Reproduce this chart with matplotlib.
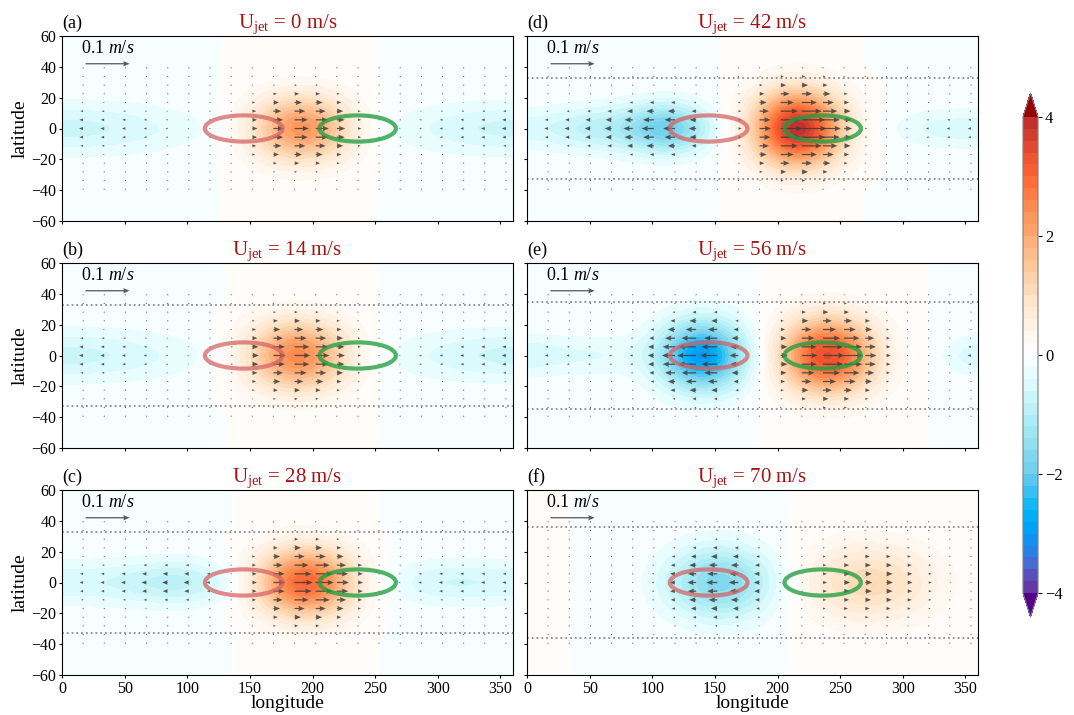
import numpy as np
import matplotlib
matplotlib.use('Agg')
import matplotlib.pyplot as plt
from matplotlib.colors import LinearSegmentedColormap
from matplotlib.patches import Ellipse

plt.rcParams['font.family'] = 'Liberation Serif'
plt.rcParams['mathtext.fontset'] = 'custom'
plt.rcParams['mathtext.rm'] = 'Liberation Serif'
plt.rcParams['mathtext.it'] = 'Liberation Serif:italic'

# ---- data ----
ujet = [0, 14, 28, 42, 56, 70]
tags = ['(a)', '(b)', '(c)', '(d)', '(e)', '(f)']

# anomaly blobs: (lon, lat, amplitude, sigma_lon, sigma_lat)
blobs_a = [(191, 0, 2.3, 40, 21), (5, 0, -0.65, 100, 17)]
blobs_b = [(188, 0, 2.5, 40, 22), (5, 0, -0.65, 100, 17)]
blobs_c = [(194, 0, 3.0, 38, 22), (95, 0, -0.75, 45, 15),
           (25, 0, -0.45, 60, 15), (305, 0, -0.5, 50, 15)]
blobs_d = [(216, 0, 3.9, 35, 24), (112, 0, -1.8, 34, 16),
           (55, 0, -0.8, 45, 15), (335, 0, -0.45, 45, 13)]
blobs_e = [(240, 0, 3.4, 37, 24), (140, 0, -3.0, 34, 22),
           (45, 0, -0.4, 55, 14), (358, 0, -0.35, 25, 13)]
blobs_f = [(154, 0, -1.7, 42, 23), (273, 0, 1.1, 52, 25)]
all_blobs = [blobs_a, blobs_b, blobs_c, blobs_d, blobs_e, blobs_f]

# longitude ranges where the weak far-field anomaly is positive
tails = [[(128, 250)], [(131, 251)], [(137, 254)],
         [(155, 269)], [(187, 320)], [(0, 35), (211, 360)]]

crit_lat = [None, 33, 33, 33, 34.5, 36]

pink_center = (145, 0)
green_center = (236, 0)

# colour anchors (value, rgb)
cmap_vals = [-4.0, -3.6, -3.3, -3.0, -2.6, -2.0, -1.0, -0.4, 0.0,
             0.4, 1.0, 1.6, 2.0, 2.6, 3.0, 3.4, 4.0]
cmap_rgb = [(105, 45, 155), (85, 95, 200), (40, 130, 230), (0, 155, 245),
            (0, 180, 250), (110, 205, 235), (180, 240, 245), (225, 252, 255),
            (255, 255, 255), (255, 245, 235), (255, 225, 195), (255, 195, 150),
            (255, 170, 115), (255, 135, 75), (255, 100, 50), (235, 80, 50),
            (185, 45, 45)]


def build_field(lon2d, lat2d, blobs, tail=None):
    f = np.zeros_like(lon2d, dtype=float)
    for lon0, lat0, amp, sx, sy in blobs:
        dl = (lon2d - lon0 + 180) % 360 - 180
        f += amp * np.exp(-(dl / sx) ** 2 - ((lat2d - lat0) / sy) ** 2)
    if tail is not None:
        sgn = -np.ones_like(f)
        for a, b in tail:
            sgn[(lon2d >= a) & (lon2d < b)] = 1.0
        f += 0.02 * sgn
    return f


pos = [(v + 4) / 8 for v in cmap_vals]
cols = [tuple(c / 255 for c in rgb) for rgb in cmap_rgb]
cmap = LinearSegmentedColormap.from_list('bwor', list(zip(pos, cols)))
cmap.set_over((150 / 255, 0, 0))
cmap.set_under((85 / 255, 0, 140 / 255))
levels = np.arange(-4, 4.001, 0.2)

lon = np.linspace(0, 360, 721)
lat = np.linspace(-60, 60, 241)
LON, LAT = np.meshgrid(lon, lat)

qlon = 16.875 * np.arange(1, 22)
qlat = 5.625 * np.arange(-7, 8)
QLON, QLAT = np.meshgrid(qlon, qlat)

fig = plt.figure(figsize=(10.74, 7.15), dpi=100)
W, H = 1074, 715
col_x = [62, 527]
row_top = [36, 263, 490]
aw, ah = 451, 185

cs = None
for i in range(6):
    c, r = divmod(i, 3)
    ax = fig.add_axes([col_x[c] / W, 1 - (row_top[r] + ah) / H, aw / W, ah / H])
    fld = build_field(LON, LAT, all_blobs[i], tails[i])
    cs = ax.contourf(lon, lat, fld, levels=levels, cmap=cmap, extend='both',
                     vmin=-4, vmax=4)
    u = 0.0145 * build_field(QLON, QLAT, all_blobs[i])
    v = np.zeros_like(u)
    q = ax.quiver(QLON, QLAT, u, v, color='#3c3c3c', alpha=0.85, scale=1.023,
                  scale_units='width', width=0.0028, headwidth=4.2,
                  headlength=5, headaxislength=4.5, zorder=3)
    ax.quiverkey(q, 0.101, 0.85, 0.1, r'0.1 $m/s$', labelpos='N',
                 coordinates='axes', fontproperties={'size': 13},
                 labelsep=0.07)
    if crit_lat[i] is not None:
        for s in (1, -1):
            ax.axhline(s * crit_lat[i], color='0.55', ls=':', lw=1.3, zorder=2)
    ax.add_patch(Ellipse(pink_center, 62, 17, fill=False, ec='#d45f5f',
                         lw=3, alpha=0.72, zorder=4))
    ax.add_patch(Ellipse(green_center, 61, 17, fill=False, ec='#1f9e3f',
                         lw=3, alpha=0.78, zorder=4))
    ax.set_xlim(0, 360)
    ax.set_ylim(-60, 60)
    ax.set_xticks(np.arange(0, 351, 50))
    ax.set_yticks(np.arange(-60, 61, 20))
    ax.tick_params(labelsize=11.5, length=2.5, pad=1.5)
    if c == 0:
        ax.set_ylabel('latitude', fontsize=14, labelpad=2)
    else:
        ax.set_yticklabels([])
    if r == 2:
        ax.set_xlabel('longitude', fontsize=14, labelpad=-1)
    else:
        ax.set_xticklabels([])
    ax.set_title(r'$\mathrm{U_{jet}}$ = %d m/s' % ujet[i], color='#a31515',
                 fontsize=15)
    ax.set_title(tags[i], loc='left', fontsize=13)

cax = fig.add_axes([1023 / W, (H - 617) / H, 15 / W, 524 / H])
cb = fig.colorbar(cs, cax=cax, ticks=[-4, -2, 0, 2, 4])
cb.ax.tick_params(labelsize=12, length=3, pad=2)
cb.outline.set_edgecolor('0.5')

fig.savefig('out.png', dpi=100)
